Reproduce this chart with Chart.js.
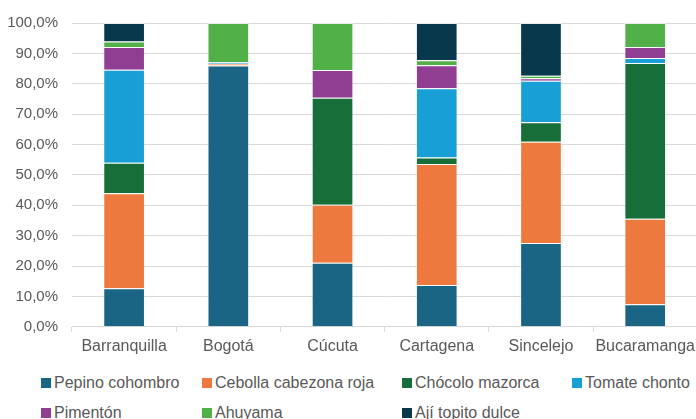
<!DOCTYPE html>
<html>
<head>
<meta charset="utf-8">
<script src="https://cdn.jsdelivr.net/npm/chart.js@4"></script>
<style>
  html, body { margin: 0; padding: 0; background: #fff; overflow: hidden; }
  #wrap { position: relative; width: 700px; height: 419px; }
  #chart-box { position: absolute; left: 0; top: 0; width: 700px; height: 361px; }
  #legend {
    position: absolute; left: 41px; top: 372px;
    display: grid; grid-template-columns: 161px 200px 170px 160px;
    grid-auto-rows: 30px;
    font-family: "Liberation Sans", Arial, sans-serif; font-size: 16px; color: #595959;
  }
  .item { display: flex; align-items: center; white-space: nowrap; height: 22px; }
  .swatch { width: 10px; height: 10px; margin-right: 3px; flex: none; }
</style>
</head>
<body>
<div id="wrap">
  <div id="chart-box"><canvas id="chart"></canvas></div>
  <div id="legend"></div>
</div>
<script>
const categories = ['Barranquilla', 'Bogotá', 'Cúcuta', 'Cartagena', 'Sincelejo', 'Bucaramanga'];

const pepino   = [12.7, 86.0, 21.1, 13.8, 27.6, 7.4];
const cebolla  = [31.3, 0.6, 19.1, 39.8, 33.3, 28.2];
const chocolo  = [10.0, 0, 35.2, 2.1, 6.4, 51.2];
const tomate   = [30.6, 0.4, 0, 22.8, 13.7, 1.7];
const pimenton = [7.5, 0.2, 9.1, 7.6, 0.8, 3.6];
const ahuyama  = [1.8, 12.8, 15.5, 1.6, 0.8, 7.9];
const aji      = [6.1, 0, 0, 12.3, 17.4, 0];

const yTicks = [0, 10, 20, 30, 40, 50, 60, 70, 80, 90, 100];

const series = [
  { label: 'Pepino cohombro', data: pepino, color: '#1b6584' },
  { label: 'Cebolla cabezona roja', data: cebolla, color: '#ee793e' },
  { label: 'Chócolo mazorca', data: chocolo, color: '#176e38' },
  { label: 'Tomate chonto', data: tomate, color: '#18a0d6' },
  { label: 'Pimentón', data: pimenton, color: '#903e91' },
  { label: 'Ahuyama', data: ahuyama, color: '#52b048' },
  { label: 'Ají topito dulce', data: aji, color: '#07384c' },
];

const font = { family: '"Liberation Sans", Arial, sans-serif' };

new Chart(document.getElementById('chart'), {
  type: 'bar',
  data: {
    labels: categories,
    datasets: series.map(s => ({
      label: s.label,
      data: s.data,
      backgroundColor: s.color,
      borderColor: 'rgba(255,255,255,0.45)',
      borderWidth: (ctx) => (ctx.raw ? 1 : 0),
      barPercentage: 0.4,
      categoryPercentage: 1,
    })),
  },
  options: {
    responsive: true,
    maintainAspectRatio: false,
    animation: false,
    layout: { padding: { left: 8, top: 14, right: 0, bottom: 0 } },
    plugins: { legend: { display: false }, tooltip: { enabled: false } },
    scales: {
      x: {
        stacked: true,
        grid: { offset: true, drawOnChartArea: false, drawTicks: true, tickLength: 5, color: '#d9d9d9' },
        border: { color: '#d9d9d9', width: 1 },
        ticks: { color: '#595959', font: { ...font, size: 16 }, padding: 5, maxRotation: 0, autoSkip: false },
      },
      y: {
        stacked: true,
        min: 0,
        max: 100,
        afterBuildTicks: (axis) => { axis.ticks = yTicks.map(v => ({ value: v })); },
        afterFit: (axis) => { axis.width = 64; },
        grid: { color: '#d9d9d9', lineWidth: 1, drawTicks: false },
        border: { display: false },
        ticks: {
          color: '#595959',
          font: { ...font, size: 15 },
          padding: 14,
          callback: (v) => v.toFixed(1).replace('.', ',') + '%',
        },
      },
    },
  },
});

const legend = document.getElementById('legend');
series.forEach(s => {
  const item = document.createElement('div');
  item.className = 'item';
  const sw = document.createElement('span');
  sw.className = 'swatch';
  sw.style.background = s.color;
  const txt = document.createElement('span');
  txt.textContent = s.label;
  item.appendChild(sw);
  item.appendChild(txt);
  legend.appendChild(item);
});
</script>
</body>
</html>
